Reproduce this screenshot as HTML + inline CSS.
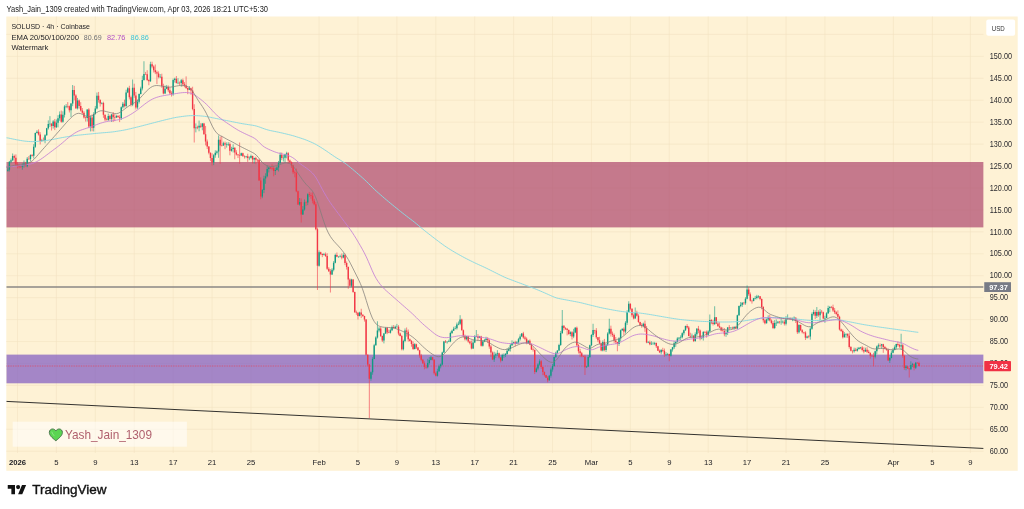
<!DOCTYPE html>
<html lang="en"><head><meta charset="utf-8"><title>SOLUSD chart</title>
<style>html,body{margin:0;padding:0;background:#fff;overflow:hidden}svg{display:block}</style></head>
<body>
<svg width="1024" height="509" viewBox="0 0 1024 509">
<rect width="1024" height="509" fill="#fff"/>
<rect x="6.3" y="16.5" width="1011.4000000000001" height="454.3" fill="#fef2d5"/>
<path d="M17.5 16.5V453.0M56.41 16.5V453.0M95.32 16.5V453.0M134.24 16.5V453.0M173.15 16.5V453.0M212.06 16.5V453.0M250.97 16.5V453.0M319.07 16.5V453.0M357.98 16.5V453.0M396.89 16.5V453.0M435.8 16.5V453.0M474.72 16.5V453.0M513.63 16.5V453.0M552.54 16.5V453.0M591.45 16.5V453.0M630.36 16.5V453.0M669.28 16.5V453.0M708.19 16.5V453.0M747.1 16.5V453.0M786.01 16.5V453.0M824.92 16.5V453.0M893.4 16.5V453.0M932.4 16.5V453.0M970.4 16.5V453.0M6.3 451.23H983.6M6.3 429.29H983.6M6.3 407.35H983.6M6.3 385.41H983.6M6.3 363.48H983.6M6.3 341.54H983.6M6.3 319.6H983.6M6.3 297.66H983.6M6.3 275.73H983.6M6.3 253.79H983.6M6.3 231.85H983.6M6.3 209.91H983.6M6.3 187.97H983.6M6.3 166.04H983.6M6.3 144.1H983.6M6.3 122.16H983.6M6.3 100.22H983.6M6.3 78.29H983.6M6.3 56.35H983.6M6.3 34.41H983.6" stroke="#f3e2c0" stroke-width="0.55" fill="none"/>
<clipPath id="pane"><rect x="6.3" y="16.5" width="977.3000000000001" height="436.5"/></clipPath>
<g clip-path="url(#pane)">
<rect x="6.3" y="162" width="977.3000000000001" height="65.4" fill="rgb(177,80,115)" fill-opacity="0.75"/>
<rect x="6.3" y="354.6" width="977.3000000000001" height="28.7" fill="rgb(134,97,193)" fill-opacity="0.75"/>
<path d="M6.3 286.9H983.6" stroke="#8a8784" stroke-width="1.5"/>
<path d="M6.3 401.4L983.6 448.45" stroke="#1c1c1c" stroke-width="0.9"/>
<path d="M6.3 366.02H983.6" stroke="#f23645" stroke-width="0.8" stroke-dasharray="0.8 0.9" opacity="0.85"/>
<path d="M7.77 167.2V171.65M9.39 160.95V171.5M11.01 158.49V163.1M12.64 153.48V161.24M22.36 163.35V169.72M23.99 160.48V167.66M27.23 157.03V167.24M30.47 154.35V161.28M33.71 144.18V158.41M35.33 132.55V147.8M36.96 130.2V133.53M41.82 138.85V141.72M45.06 134.18V143.28M46.68 127.86V135.81M48.31 120.38V129.56M49.93 116.16V127.06M53.17 120.1V128.57M56.41 119.51V127.92M58.03 115.2V127.38M59.65 111.45V120.76M62.9 111.32V122.76M64.52 105.19V117.49M66.14 104.1V108.12M71 103.1V117.02M72.63 85V106.2M77.49 97.95V109.45M87.22 109.4V121.55M90.46 115.29V131.41M93.7 112.2V131.46M95.32 105.95V114.68M96.95 92.54V109.41M101.81 102.18V104.33M108.29 113.62V120.93M111.54 114V122.01M116.4 114.91V118.06M121.27 106.39V120M122.89 101.99V108.55M126.13 89.7V107.47M127.75 87.2V93.14M132.61 79.5V106.17M137.48 99.43V108.96M139.1 93.45V103.5M140.72 86.7V94.44M142.34 75.77V90.42M143.96 61.25V80.72M150.45 61.72V81.9M160.18 74.03V78.18M165.04 85.52V93.8M166.66 84.96V89.21M173.15 78.59V95.76M174.77 77.7V82.59M178.01 78.15V84.15M181.25 78.96V86.81M189.36 86.01V90.16M195.85 123.4V132.37M199.09 120.55V131.28M202.33 122.96V130.29M213.68 154.12V165.12M215.3 150.31V157.73M216.92 150.42V154.5M218.55 135.44V157.8M223.41 141.73V145.92M226.65 142.37V147.61M228.27 142.2V146.04M231.52 146.79V151.67M233.14 144.31V152.49M241.24 152.62V156.01M246.11 155.86V158.19M249.35 156.4V160.16M250.97 154.65V158.59M254.21 157.54V163.6M262.32 188.99V198.18M263.94 175.68V193.13M265.56 173.28V183.77M267.19 165.44V177.34M268.81 166.77V172.42M275.29 167.69V175.02M276.91 166.32V170.5M278.53 160.95V171.45M280.16 152.45V164.45M283.4 155.01V161.5M285.02 153.71V162.72M286.64 151.72V158.33M299.61 198.04V205.58M302.85 206.1V214.99M304.48 199.47V210.61M307.72 193.32V205.11M319.07 250.39V266.63M323.93 252.9V255.47M332.04 268.17V275.01M333.66 261.07V271.35M335.28 253.61V263.33M338.52 256.23V257.61M340.15 254.7V257.42M343.39 253.23V258.29M351.49 278.79V287.1M359.6 311.7V316.42M370.95 371.45V380.69M372.57 357.2V374.72M374.19 343.84V359.24M375.81 336.31V345.69M377.44 321.25V338.59M379.06 326.99V332.33M383.92 332.94V343.41M385.54 327.2V333.85M390.41 328.38V333.56M392.03 325.52V331.05M395.27 325.65V328.96M396.89 323.9V327.3M403.38 339.7V350.43M405 328.45V342.23M414.73 343.11V349.47M427.7 358.81V368.34M429.32 357.09V364.61M430.94 355.95V360.37M437.43 368.77V376.55M439.05 364.54V371.83M440.67 363.45V368.39M442.29 351.64V365.37M443.91 340.92V353.04M447.15 341.18V343.61M448.77 339.7V342.1M450.4 331.62V342.2M452.02 329.7V334.03M453.64 326.79V330.84M455.26 326.12V329.4M456.88 322.54V329.55M458.5 321.46V325.21M460.12 315.2V325.17M466.61 335.96V340.53M473.09 339.98V349.06M474.72 335.12V343.14M476.34 330V336.88M479.58 335.86V338.17M482.82 340.11V346.62M484.44 338.98V342.19M486.07 336.75V340.52M494.17 351.73V361.94M495.79 352.58V357.99M497.41 350.19V355.89M502.28 353.75V361.16M503.9 353.35V357.9M505.52 353.05V357.12M507.14 348.11V354.77M508.76 347.2V351.44M510.39 343.96V351.53M512.01 340.27V346.08M513.63 341.65V344.3M516.87 341.07V344.12M518.49 337.86V343.95M520.11 334.25V340.61M521.73 333.01V336.73M528.22 340.2V343.31M536.33 367.3V372.44M537.95 363.29V370.34M539.57 359.28V365.6M549.3 374.9V380.71M550.92 367.55V377.61M552.54 363.92V371.66M554.16 356.6V366.71M555.78 351.65V357.94M557.4 350.26V354.28M559.03 343.78V351.14M560.65 330.98V345.91M562.27 310V333.99M570.37 331.31V336.13M573.62 328.84V338.11M575.24 326.98V333.16M586.59 366.24V367.8M588.21 355.18V367.05M589.83 344.7V358.05M591.45 334.13V346.26M593.07 323.75V336.91M602.8 340.39V351.4M606.04 343.99V352.01M607.67 332.2V346.02M609.29 318.75V334.46M619.01 337.2V345.99M620.64 329.54V341.53M622.26 328.54V330.86M625.5 321.17V333.44M627.12 310.22V324.94M628.74 301.25V312.18M635.23 307.5V318.63M643.33 322.64V327.32M648.2 340.95V343.16M651.44 341.29V345.02M653.06 341.85V344.37M654.68 341.83V345.15M661.17 349.07V354.29M666.03 352.2V356.09M667.65 352.9V355.31M670.9 348.99V356.57M672.52 346.95V351.59M674.14 341.15V349.02M675.76 340.95V346.85M677.38 337.17V342.6M679 337.06V340.65M680.63 335.37V340.26M682.25 332.3V338.41M683.87 329.56V335.35M685.49 325.66V330.93M691.97 333.55V337.8M695.22 332.33V341.9M696.84 328.02V336.18M701.7 335.95V339.28M703.32 331.02V340.58M708.19 330.27V335.92M709.81 314.5V331.93M714.67 306.25V325.04M726.02 330.04V336.87M727.64 327V335.06M730.89 327.12V328.58M734.13 326.07V329.76M737.37 314.7V329.17M738.99 305.58V315.9M740.61 302.07V307.26M742.24 302.2V306.94M745.48 297.2V304.77M747.1 285.5V299.28M753.59 297.94V301.4M755.21 295.95V299.42M756.83 294.83V299.42M758.45 295.22V298.23M766.56 318.47V323.54M768.18 315.35V320.94M774.66 320.11V329.11M776.28 319.37V326.01M777.91 320.95V323.8M781.15 318.55V324.73M782.77 320.38V323.38M786.01 316.17V325.45M787.63 314.36V319.41M792.5 317.61V321.18M794.12 316.41V321.05M798.98 324.18V333.49M807.09 335.72V338.5M810.33 327.2V339.67M811.95 312.43V329.81M813.57 309.7V315.48M816.82 307.05V318.02M820.06 309.08V320.1M824.92 315.71V322.8M826.55 312.2V318.17M828.17 305.68V313.98M829.79 305.95V312.18M844.38 332.15V337.57M846 333.19V337.75M854.11 347.65V352.64M857.35 347.48V351.64M858.97 346.94V349.66M860.59 346.96V349.17M865.46 347.69V351.85M875.19 350.6V358.41M876.81 345.62V354.41M878.43 343.45V348.68M881.67 343.87V348.62M889.78 357.2V362.97M891.4 350.58V358.27M893.02 347.97V353.31M894.64 345.39V350.36M896.26 343.7V349.21M901.13 333.75V349.75M905.99 365.04V370.31M910.85 361.33V369.93M912.48 362.87V367.12M915.72 361.93V369.03" stroke="#0f9a82" stroke-width="0.6" fill="none"/>
<path d="M14.26 154.65V163.14M15.88 154.42V166.33M17.5 162.15V168.4M19.12 164.2V168.36M20.74 166.21V167.41M25.61 161.87V166.35M28.85 156.07V159.77M32.09 154.01V156.6M38.58 129.34V135.57M40.2 132.2V144.44M43.44 137.5V141.1M51.55 123.1V130.52M54.79 118.96V130.11M61.28 110.6V122.8M67.76 102.1V108.3M69.38 105.49V112.48M74.25 85.85V100.31M75.87 94.25V109.05M79.11 99.5V108.65M80.73 102.2V111.55M82.35 108.02V114.01M83.97 111.16V118.61M85.6 116.89V121.55M88.84 108.15V128.13M92.08 114.44V131.25M98.57 91.93V102.58M100.19 99.25V106.55M103.43 101.73V117.8M105.05 114.57V121.15M106.67 117.7V120.55M109.92 114.79V120.4M113.16 112.07V122.02M114.78 114.12V121.16M118.02 114.98V117.53M119.64 115.2V122.12M124.51 99.62V107.39M129.37 85.77V99.4M130.99 95.61V106.48M134.24 83.73V97.8M135.86 91.93V109.5M145.59 71.92V74.49M147.21 70.23V81.11M148.83 79.25V85.23M152.07 61.68V68.31M153.69 65.28V72.51M155.31 64.49V74.13M156.93 70.59V84.05M158.56 71.37V78.35M161.8 73.73V87.88M163.42 83.75V94.34M168.28 85.45V92.11M169.91 87.29V94.36M171.53 91.28V96.55M176.39 76.01V83.55M179.63 81.48V85.29M182.88 78.6V86.51M184.5 82.13V87.29M186.12 76.39V89.05M187.74 87.51V94.18M190.98 87.57V94.72M192.6 86.72V110.3M194.23 104.27V142.5M197.47 125.69V129.26M200.71 123.21V128.04M203.95 122.92V134.66M205.57 125.95V145.39M207.2 139.51V149.05M208.82 146.15V154.37M210.44 152.46V161.23M212.06 153.24V165.5M220.17 136.64V163.75M221.79 135.95V146.54M225.03 141.6V149.2M229.89 142.41V155.3M234.76 147.34V159.31M236.38 150.2V155.56M238 154V158.06M239.62 142.5V163.75M242.87 152.68V157.01M244.49 155.38V158.54M247.73 153.74V161.86M252.59 155.61V163.6M255.84 156.67V164.08M257.46 159.26V162.54M259.08 158.95V180.75M260.7 177.41V199.22M270.43 166.96V169.15M272.05 164.36V170.3M273.67 165.85V176.28M281.78 152.53V160.14M288.26 152.13V163.65M289.88 159.48V163.08M291.51 161.41V167.8M293.13 164.92V174.05M294.75 170.54V177.27M296.37 168.61V192.17M297.99 190.7V204.98M301.23 198.45V222.5M306.1 201.3V205.83M309.34 191.95V196.99M310.96 192.68V198.78M312.58 192.32V203.32M314.2 198.98V205.3M315.83 202.03V230.3M317.45 227.6V290M320.69 251.73V255.21M322.31 253.4V257.13M325.55 252.47V256.96M327.17 253.19V269.93M328.8 267.11V271.97M330.42 269.14V292.5M336.9 252.5V257.11M341.77 253.44V259.37M345.01 253.56V265.17M346.63 261.51V269.56M348.25 266.47V288.75M349.87 278.3V286.5M353.12 279.09V292.81M354.74 291.62V312.8M356.36 310.63V314.81M357.98 312.16V319.56M361.22 308.77V318.09M362.84 314.24V317.05M364.47 315.81V321.57M366.09 319.04V355.46M367.71 354.51V366.34M369.33 363.91V418M380.68 326.6V337M382.3 335.54V342.1M387.16 326.98V334.19M388.79 329.63V333.17M393.65 325.06V328.45M398.51 325.2V335.29M400.13 332.64V336.43M401.76 334.92V350.42M406.62 327.49V336.65M408.24 329.48V341.61M409.86 338.46V341.64M411.48 340.01V346.7M413.11 341.47V349.98M416.35 343.67V349.01M417.97 346.98V350.55M419.59 349.84V357.78M421.21 353.87V361.32M422.83 358.92V364.05M424.45 361.31V369.32M426.08 364.7V368.83M432.56 357.01V360.42M434.18 359.11V374.62M435.8 371.66V376.39M445.53 340.07V342.9M461.75 318.7V330.5M463.37 329.5V337.24M464.99 334.61V340.52M468.23 335.8V342.7M469.85 340.48V344.44M471.47 340.52V349.33M477.96 334.06V340.69M481.2 335.77V346.55M487.69 337.16V343.12M489.31 339.2V348.8M490.93 344.92V356.87M492.55 351.43V360.02M499.04 352.63V358.53M500.66 357.05V362.45M515.25 340.77V346.2M523.36 331.82V338.77M524.98 335.91V340.3M526.6 337.37V344.28M529.84 339.43V345.14M531.46 343.5V350.03M533.08 347.43V351.55M534.71 349.39V374.05M541.19 360.06V368.96M542.81 366.58V375.18M544.43 371.47V376.55M546.05 374.79V377.95M547.68 376.12V382.29M563.89 325.18V330.48M565.51 327.2V330.01M567.13 327.9V335.4M568.75 329.38V334.78M572 331.1V339.51M576.86 326.54V346.59M578.48 344.2V353.49M580.1 348.87V357.11M581.72 351.93V357.25M583.35 355.62V357.15M584.97 354.94V375M594.69 329.84V333.69M596.32 328.1V338.85M597.94 337V342.14M599.56 336.8V344.05M601.18 342.65V351.3M604.42 338.93V351.26M610.91 325.67V336.52M612.53 331.58V336.93M614.15 333.52V342.88M615.77 336.97V344.09M617.39 341.85V351.25M623.88 327.39V335.11M630.36 303.39V310.37M631.99 308.26V317.26M633.61 313.57V319.37M636.85 310.74V316.58M638.47 314.29V322.8M640.09 321.69V325.85M641.71 323.2V327.75M644.96 320.59V331.83M646.58 326.01V343.25M649.82 340.62V345.25M656.31 342.5V348M657.93 345.82V350.95M659.55 349.48V353.07M662.79 347.78V352.22M664.41 348.54V356.84M669.28 353.73V361.25M687.11 324.12V328.69M688.73 326.03V336.31M690.35 332.72V338.12M693.6 335.02V342.05M698.46 325.92V333.21M700.08 329.56V340.4M704.95 330.95V333.33M706.57 330.57V337.6M711.43 319.24V324.15M713.05 319.92V325.49M716.29 317.01V324.05M717.92 321.54V326.6M719.54 322.21V327.99M721.16 326.81V331.48M722.78 327.41V331.64M724.4 328.05V336.31M729.27 325.11V329.62M732.51 326.68V328.92M735.75 325.9V329.26M743.86 301.95V304.91M748.72 287.28V295.86M750.34 292.44V301.55M751.96 299.7V303.6M760.07 296.04V300.3M761.69 298.44V309.28M763.31 306.19V322.57M764.93 318.83V324.38M769.8 314.87V321.55M771.42 319.36V324.36M773.04 320.87V329.05M779.53 320.98V323.57M784.39 320.04V325.52M789.25 317.7V319.84M790.88 317.3V320.09M795.74 317.24V323.02M797.36 319.92V333.97M800.6 324.63V331.1M802.23 329.11V333.43M803.85 331.8V334.16M805.47 331.2V339.98M808.71 335.2V338.16M815.2 310.22V319.05M818.44 310.3V316.75M821.68 309.96V313.58M823.3 311.66V319.23M831.41 305.95V308.32M833.03 304.67V311.94M834.65 308.06V313.94M836.27 311.24V315.3M837.89 310.37V318.28M839.52 315.73V330.51M841.14 328.58V331.93M842.76 329.51V338.48M847.62 333.22V337.8M849.24 332.92V348.67M850.87 346.09V351.38M852.49 350.31V353.43M855.73 347.85V351.21M862.21 346.03V351.43M863.84 347.28V353.29M867.08 347.23V353.05M868.7 349.85V353.37M870.32 352.22V358.61M871.94 354.14V356.82M873.56 352.75V366.25M880.05 343.45V347.56M883.29 343.81V352.8M884.91 345.9V349.08M886.53 347.68V350.76M888.16 348.54V360.8M897.88 341.5V346.55M899.51 343.63V347.8M902.75 344.08V357.8M904.37 354.82V369.88M907.61 365.81V369.11M909.23 368.14V377.5M914.1 363.34V370.33M917.34 362.23V363.72M918.96 361.7V366.35" stroke="#f23645" stroke-width="0.6" fill="none"/>
<path d="M7.07 169.81h1.4V170.81h-1.4zM8.69 161.82h1.4V169.81h-1.4zM10.31 160.32h1.4V161.82h-1.4zM11.94 156.03h1.4V160.32h-1.4zM21.66 165.63h1.4V166.8h-1.4zM23.29 163.5h1.4V165.63h-1.4zM26.53 158.66h1.4V166.15h-1.4zM29.77 155.07h1.4V159.06h-1.4zM33.01 146.77h1.4V155.72h-1.4zM34.63 132.89h1.4V146.77h-1.4zM36.26 131.85h1.4V132.89h-1.4zM41.12 140.28h1.4V140.9h-1.4zM44.36 135.32h1.4V140.77h-1.4zM45.98 128.24h1.4V135.32h-1.4zM47.61 124.01h1.4V128.24h-1.4zM49.23 123.87h1.4V124.37h-1.4zM52.47 121.43h1.4V126.03h-1.4zM55.71 122.8h1.4V127.18h-1.4zM57.33 118.29h1.4V122.8h-1.4zM58.95 114.49h1.4V118.29h-1.4zM62.2 114.83h1.4V121.63h-1.4zM63.82 106.55h1.4V114.83h-1.4zM65.44 106.18h1.4V106.68h-1.4zM70.3 103.56h1.4V110.36h-1.4zM71.93 90.12h1.4V103.56h-1.4zM76.79 100.49h1.4V108.24h-1.4zM86.52 109.62h1.4V118.1h-1.4zM89.76 117.45h1.4V126.41h-1.4zM93 114.09h1.4V127.79h-1.4zM94.62 108.38h1.4V114.09h-1.4zM96.25 95.87h1.4V108.38h-1.4zM101.11 102.88h1.4V103.58h-1.4zM107.59 115.97h1.4V119.88h-1.4zM110.84 114.55h1.4V119.01h-1.4zM115.7 116h1.4V117.52h-1.4zM120.57 107.29h1.4V118.24h-1.4zM122.19 103.8h1.4V107.29h-1.4zM125.43 92.61h1.4V106.03h-1.4zM127.05 88.22h1.4V92.61h-1.4zM131.91 87.87h1.4V104.68h-1.4zM136.78 101.78h1.4V107.5h-1.4zM138.4 94.1h1.4V101.78h-1.4zM140.02 88.41h1.4V94.1h-1.4zM141.64 80h1.4V88.41h-1.4zM143.26 73.97h1.4V80h-1.4zM149.75 64.31h1.4V81.18h-1.4zM159.48 76.64h1.4V77.14h-1.4zM164.34 88.74h1.4V93.5h-1.4zM165.96 87.06h1.4V88.74h-1.4zM172.45 79.88h1.4V94.36h-1.4zM174.07 78.85h1.4V79.88h-1.4zM177.31 82.72h1.4V83.22h-1.4zM180.55 80.16h1.4V82.96h-1.4zM188.66 88.14h1.4V89.72h-1.4zM195.15 127.43h1.4V128.17h-1.4zM198.39 125.84h1.4V127.47h-1.4zM201.63 123.56h1.4V126.87h-1.4zM212.98 155.36h1.4V162.4h-1.4zM214.6 152.68h1.4V155.36h-1.4zM216.22 151.52h1.4V152.68h-1.4zM217.85 139.77h1.4V151.52h-1.4zM222.71 143.25h1.4V145.6h-1.4zM225.95 144.36h1.4V144.86h-1.4zM227.57 143.89h1.4V144.39h-1.4zM230.82 148.88h1.4V150.64h-1.4zM232.44 147.77h1.4V148.88h-1.4zM240.54 153.19h1.4V155.39h-1.4zM245.41 156.13h1.4V156.63h-1.4zM248.65 157.65h1.4V158.15h-1.4zM250.27 156.08h1.4V157.65h-1.4zM253.51 157.9h1.4V159.41h-1.4zM261.62 189.96h1.4V196.62h-1.4zM263.24 178.57h1.4V189.96h-1.4zM264.86 176.27h1.4V178.57h-1.4zM266.49 168.98h1.4V176.27h-1.4zM268.11 167.59h1.4V168.98h-1.4zM274.59 169.91h1.4V170.95h-1.4zM276.21 167.59h1.4V169.91h-1.4zM277.83 163.09h1.4V167.59h-1.4zM279.46 154.84h1.4V163.09h-1.4zM282.7 157.67h1.4V158.17h-1.4zM284.32 154.14h1.4V157.67h-1.4zM285.94 153.18h1.4V154.14h-1.4zM298.91 202.1h1.4V204.51h-1.4zM302.15 209.39h1.4V214.57h-1.4zM303.78 202.35h1.4V209.39h-1.4zM307.02 194.32h1.4V202.56h-1.4zM318.37 252.36h1.4V265.87h-1.4zM323.23 254.15h1.4V254.98h-1.4zM331.34 269.66h1.4V274.45h-1.4zM332.96 262.66h1.4V269.66h-1.4zM334.58 254.98h1.4V262.66h-1.4zM337.82 256.67h1.4V257.17h-1.4zM339.45 256.48h1.4V256.98h-1.4zM342.69 254.88h1.4V257.49h-1.4zM350.79 279.53h1.4V285.69h-1.4zM358.9 312.52h1.4V316.03h-1.4zM370.25 372.36h1.4V378.8h-1.4zM371.87 358.95h1.4V372.36h-1.4zM373.49 345.18h1.4V358.95h-1.4zM375.11 337.52h1.4V345.18h-1.4zM376.74 330.51h1.4V337.52h-1.4zM378.36 328.48h1.4V330.51h-1.4zM383.22 333.5h1.4V340.56h-1.4zM384.84 327.9h1.4V333.5h-1.4zM389.71 330.27h1.4V332.73h-1.4zM391.33 327.1h1.4V330.27h-1.4zM394.57 326.83h1.4V327.9h-1.4zM396.19 326.82h1.4V327.32h-1.4zM402.68 340.97h1.4V349.3h-1.4zM404.3 330.46h1.4V340.97h-1.4zM414.03 344.2h1.4V348.99h-1.4zM427 363.02h1.4V367.23h-1.4zM428.62 359.95h1.4V363.02h-1.4zM430.24 357.36h1.4V359.95h-1.4zM436.73 371.32h1.4V375.78h-1.4zM438.35 366.34h1.4V371.32h-1.4zM439.97 364.38h1.4V366.34h-1.4zM441.59 352.6h1.4V364.38h-1.4zM443.21 341.48h1.4V352.6h-1.4zM446.45 341.73h1.4V342.23h-1.4zM448.07 341.43h1.4V341.93h-1.4zM449.7 332.96h1.4V341.43h-1.4zM451.32 330.63h1.4V332.96h-1.4zM452.94 328.84h1.4V330.63h-1.4zM454.56 328.33h1.4V328.84h-1.4zM456.18 324.54h1.4V328.33h-1.4zM457.8 323.82h1.4V324.54h-1.4zM459.42 319.42h1.4V323.82h-1.4zM465.91 336.25h1.4V339.3h-1.4zM472.39 342.49h1.4V348.57h-1.4zM474.02 336.51h1.4V342.49h-1.4zM475.64 336.13h1.4V336.63h-1.4zM478.88 336.43h1.4V337.94h-1.4zM482.12 341.57h1.4V345.72h-1.4zM483.74 340.27h1.4V341.57h-1.4zM485.37 338.82h1.4V340.27h-1.4zM493.47 355.38h1.4V359.51h-1.4zM495.09 354.13h1.4V355.38h-1.4zM496.71 353.23h1.4V354.13h-1.4zM501.58 354.99h1.4V360.54h-1.4zM503.2 354.95h1.4V355.45h-1.4zM504.82 354.07h1.4V354.95h-1.4zM506.44 350.69h1.4V354.07h-1.4zM508.06 348.9h1.4V350.69h-1.4zM509.69 345.21h1.4V348.9h-1.4zM511.31 342.9h1.4V345.21h-1.4zM512.93 342.19h1.4V342.9h-1.4zM516.17 342.36h1.4V343.72h-1.4zM517.79 339.25h1.4V342.36h-1.4zM519.41 336.51h1.4V339.25h-1.4zM521.03 333.39h1.4V336.51h-1.4zM527.52 340.79h1.4V343.03h-1.4zM535.63 368.48h1.4V371.92h-1.4zM537.25 364.49h1.4V368.48h-1.4zM538.87 361.33h1.4V364.49h-1.4zM548.6 375.79h1.4V380.31h-1.4zM550.22 369.61h1.4V375.79h-1.4zM551.84 366.06h1.4V369.61h-1.4zM553.46 357.11h1.4V366.06h-1.4zM555.08 352.86h1.4V357.11h-1.4zM556.7 350.49h1.4V352.86h-1.4zM558.33 345.08h1.4V350.49h-1.4zM559.95 333.02h1.4V345.08h-1.4zM561.57 325.78h1.4V333.02h-1.4zM569.67 332.33h1.4V334.04h-1.4zM572.92 332.44h1.4V336.5h-1.4zM574.54 327.84h1.4V332.44h-1.4zM585.89 366.55h1.4V367.16h-1.4zM587.51 357.1h1.4V366.55h-1.4zM589.13 345.26h1.4V357.1h-1.4zM590.75 334.99h1.4V345.26h-1.4zM592.37 330.12h1.4V334.99h-1.4zM602.1 342h1.4V350.43h-1.4zM605.34 344.72h1.4V349.97h-1.4zM606.97 333.51h1.4V344.72h-1.4zM608.59 328.72h1.4V333.51h-1.4zM618.31 338.56h1.4V343.95h-1.4zM619.94 330.22h1.4V338.56h-1.4zM621.56 328.8h1.4V330.22h-1.4zM624.8 322.74h1.4V331.6h-1.4zM626.42 311.97h1.4V322.74h-1.4zM628.04 303.84h1.4V311.97h-1.4zM634.53 312.86h1.4V318.41h-1.4zM642.63 323.8h1.4V326h-1.4zM647.5 342.22h1.4V342.72h-1.4zM650.74 343.86h1.4V344.36h-1.4zM652.36 343.82h1.4V344.32h-1.4zM653.98 342.91h1.4V343.82h-1.4zM660.47 349.93h1.4V352.33h-1.4zM665.33 354.09h1.4V354.59h-1.4zM666.95 353.97h1.4V354.47h-1.4zM670.2 349.41h1.4V355.79h-1.4zM671.82 347.19h1.4V349.41h-1.4zM673.44 343.18h1.4V347.19h-1.4zM675.06 341.98h1.4V343.18h-1.4zM676.68 338.45h1.4V341.98h-1.4zM678.3 337.68h1.4V338.45h-1.4zM679.93 337.31h1.4V337.81h-1.4zM681.55 333.34h1.4V337.31h-1.4zM683.17 330.34h1.4V333.34h-1.4zM684.79 325.9h1.4V330.34h-1.4zM691.27 335.84h1.4V336.34h-1.4zM694.52 334.36h1.4V341.03h-1.4zM696.14 328.63h1.4V334.36h-1.4zM701 337.75h1.4V338.35h-1.4zM702.62 332.06h1.4V337.75h-1.4zM707.49 331.46h1.4V334.81h-1.4zM709.11 319.96h1.4V331.46h-1.4zM713.97 317.26h1.4V323.91h-1.4zM725.32 333.1h1.4V334.18h-1.4zM726.94 327.51h1.4V333.1h-1.4zM730.19 327.68h1.4V328.19h-1.4zM733.43 326.91h1.4V328.09h-1.4zM736.67 315.24h1.4V328.6h-1.4zM738.29 305.98h1.4V315.24h-1.4zM739.91 304.68h1.4V305.98h-1.4zM741.54 302.75h1.4V304.68h-1.4zM744.78 298.76h1.4V303.35h-1.4zM746.4 289.59h1.4V298.76h-1.4zM752.89 298.21h1.4V301.08h-1.4zM754.51 298.09h1.4V298.59h-1.4zM756.13 296.61h1.4V298.09h-1.4zM757.75 296.26h1.4V296.76h-1.4zM765.86 319.43h1.4V323.33h-1.4zM767.48 317.51h1.4V319.43h-1.4zM773.96 322.92h1.4V327.92h-1.4zM775.58 322.8h1.4V323.3h-1.4zM777.21 321.8h1.4V322.8h-1.4zM780.45 321.84h1.4V322.34h-1.4zM782.07 321.75h1.4V322.25h-1.4zM785.31 319.14h1.4V323.69h-1.4zM786.93 318.32h1.4V319.14h-1.4zM791.8 318.42h1.4V319.25h-1.4zM793.42 317.81h1.4V318.42h-1.4zM798.28 324.89h1.4V332.36h-1.4zM806.39 336.49h1.4V337.83h-1.4zM809.63 328.75h1.4V336.54h-1.4zM811.25 314.03h1.4V328.75h-1.4zM812.87 311.88h1.4V314.03h-1.4zM816.12 311.9h1.4V315.83h-1.4zM819.36 311.73h1.4V315.27h-1.4zM824.22 317.91h1.4V318.41h-1.4zM825.85 313.34h1.4V317.91h-1.4zM827.47 307.96h1.4V313.34h-1.4zM829.09 307.01h1.4V307.96h-1.4zM843.68 334.14h1.4V337.27h-1.4zM845.3 334.08h1.4V334.58h-1.4zM853.41 349.73h1.4V351.26h-1.4zM856.65 349h1.4V350.87h-1.4zM858.27 347.66h1.4V349h-1.4zM859.89 347.61h1.4V348.11h-1.4zM864.76 349.64h1.4V351.6h-1.4zM874.49 351.35h1.4V356.83h-1.4zM876.11 346.61h1.4V351.35h-1.4zM877.73 345.15h1.4V346.61h-1.4zM880.97 344.36h1.4V345.58h-1.4zM889.08 357.91h1.4V360.41h-1.4zM890.7 352.72h1.4V357.91h-1.4zM892.32 349.91h1.4V352.72h-1.4zM893.94 347.36h1.4V349.91h-1.4zM895.56 344.08h1.4V347.36h-1.4zM900.43 345.34h1.4V346.61h-1.4zM905.29 366.4h1.4V368.04h-1.4zM910.15 364.95h1.4V369.28h-1.4zM911.78 364.24h1.4V364.95h-1.4zM915.02 362.68h1.4V367.77h-1.4z" fill="#0f9a82"/>
<path d="M13.56 156.03h1.4V157.64h-1.4zM15.18 157.64h1.4V164.54h-1.4zM16.8 164.54h1.4V166.12h-1.4zM18.42 166.12h1.4V166.69h-1.4zM20.04 166.69h1.4V167.19h-1.4zM24.91 163.5h1.4V166.15h-1.4zM28.15 158.66h1.4V159.16h-1.4zM31.39 155.07h1.4V155.72h-1.4zM37.88 131.85h1.4V134.62h-1.4zM39.5 134.62h1.4V140.9h-1.4zM42.74 140.28h1.4V140.78h-1.4zM50.85 123.87h1.4V126.03h-1.4zM54.09 121.43h1.4V127.18h-1.4zM60.58 114.49h1.4V121.63h-1.4zM67.06 106.18h1.4V106.68h-1.4zM68.68 106.29h1.4V110.36h-1.4zM73.55 90.12h1.4V95.45h-1.4zM75.17 95.45h1.4V108.24h-1.4zM78.41 100.49h1.4V106.06h-1.4zM80.03 106.06h1.4V110.41h-1.4zM81.65 110.41h1.4V112.83h-1.4zM83.27 112.83h1.4V117.54h-1.4zM84.9 117.54h1.4V118.1h-1.4zM88.14 109.62h1.4V126.41h-1.4zM91.38 117.45h1.4V127.79h-1.4zM97.87 95.87h1.4V99.98h-1.4zM99.49 99.98h1.4V103.58h-1.4zM102.73 102.88h1.4V114.8h-1.4zM104.35 114.8h1.4V119.59h-1.4zM105.97 119.59h1.4V120.09h-1.4zM109.22 115.97h1.4V119.01h-1.4zM112.46 114.55h1.4V117.21h-1.4zM114.08 117.21h1.4V117.71h-1.4zM117.32 116h1.4V117.27h-1.4zM118.94 117.27h1.4V118.24h-1.4zM123.81 103.8h1.4V106.03h-1.4zM128.67 88.22h1.4V97.24h-1.4zM130.29 97.24h1.4V104.68h-1.4zM133.54 87.87h1.4V95.47h-1.4zM135.16 95.47h1.4V107.5h-1.4zM144.89 73.97h1.4V74.47h-1.4zM146.51 74.27h1.4V79.96h-1.4zM148.13 79.96h1.4V81.18h-1.4zM151.37 64.31h1.4V66.52h-1.4zM152.99 66.52h1.4V70.35h-1.4zM154.61 70.35h1.4V72.15h-1.4zM156.23 72.15h1.4V73.55h-1.4zM157.86 73.55h1.4V76.96h-1.4zM161.1 76.64h1.4V86.09h-1.4zM162.72 86.09h1.4V93.5h-1.4zM167.58 87.06h1.4V90.19h-1.4zM169.21 90.19h1.4V93.23h-1.4zM170.83 93.23h1.4V94.36h-1.4zM175.69 78.85h1.4V83.09h-1.4zM178.93 82.72h1.4V83.22h-1.4zM182.18 80.16h1.4V84.33h-1.4zM183.8 84.33h1.4V85.46h-1.4zM185.42 85.46h1.4V87.99h-1.4zM187.04 87.99h1.4V89.72h-1.4zM190.28 88.14h1.4V90.57h-1.4zM191.9 90.57h1.4V109.02h-1.4zM193.53 109.02h1.4V128.17h-1.4zM196.77 127.43h1.4V127.93h-1.4zM200.01 125.84h1.4V126.87h-1.4zM203.25 123.56h1.4V134.23h-1.4zM204.87 134.23h1.4V141.48h-1.4zM206.5 141.48h1.4V146.42h-1.4zM208.12 146.42h1.4V152.8h-1.4zM209.74 152.8h1.4V157.97h-1.4zM211.36 157.97h1.4V162.4h-1.4zM219.47 139.77h1.4V145.47h-1.4zM221.09 145.47h1.4V145.97h-1.4zM224.33 143.25h1.4V144.5h-1.4zM229.19 143.89h1.4V150.64h-1.4zM234.06 147.77h1.4V152.55h-1.4zM235.68 152.55h1.4V154.52h-1.4zM237.3 154.52h1.4V155.17h-1.4zM238.92 155.17h1.4V155.67h-1.4zM242.17 153.19h1.4V155.97h-1.4zM243.79 155.97h1.4V156.47h-1.4zM247.03 156.13h1.4V158.1h-1.4zM251.89 156.08h1.4V159.41h-1.4zM255.14 157.9h1.4V159.85h-1.4zM256.76 159.85h1.4V160.35h-1.4zM258.38 160h1.4V180.54h-1.4zM260 180.54h1.4V196.62h-1.4zM269.73 167.59h1.4V168.33h-1.4zM271.35 168.33h1.4V168.83h-1.4zM272.97 168.33h1.4V170.95h-1.4zM281.08 154.84h1.4V157.99h-1.4zM287.56 153.18h1.4V160.55h-1.4zM289.18 160.55h1.4V162.33h-1.4zM290.81 162.33h1.4V165.41h-1.4zM292.43 165.41h1.4V172.17h-1.4zM294.05 172.17h1.4V172.82h-1.4zM295.67 172.82h1.4V191.29h-1.4zM297.29 191.29h1.4V204.51h-1.4zM300.53 202.1h1.4V214.57h-1.4zM305.4 202.35h1.4V202.85h-1.4zM308.64 194.32h1.4V195h-1.4zM310.26 195h1.4V195.83h-1.4zM311.88 195.83h1.4V200.79h-1.4zM313.5 200.79h1.4V204.33h-1.4zM315.13 204.33h1.4V229.33h-1.4zM316.75 229.33h1.4V265.87h-1.4zM319.99 252.36h1.4V254.02h-1.4zM321.61 254.02h1.4V254.98h-1.4zM324.85 254.15h1.4V255.91h-1.4zM326.47 255.91h1.4V268.76h-1.4zM328.1 268.76h1.4V271.15h-1.4zM329.72 271.15h1.4V274.45h-1.4zM336.2 254.98h1.4V256.77h-1.4zM341.07 256.48h1.4V257.49h-1.4zM344.31 254.88h1.4V262.91h-1.4zM345.93 262.91h1.4V267.09h-1.4zM347.55 267.09h1.4V279.4h-1.4zM349.17 279.4h1.4V285.69h-1.4zM352.42 279.53h1.4V291.99h-1.4zM354.04 291.99h1.4V312.17h-1.4zM355.66 312.17h1.4V312.74h-1.4zM357.28 312.74h1.4V316.03h-1.4zM360.52 312.52h1.4V314.84h-1.4zM362.14 314.84h1.4V316.02h-1.4zM363.77 316.02h1.4V319.56h-1.4zM365.39 319.56h1.4V354.86h-1.4zM367.01 354.86h1.4V364.46h-1.4zM368.63 364.46h1.4V378.8h-1.4zM379.98 328.48h1.4V335.98h-1.4zM381.6 335.98h1.4V340.56h-1.4zM386.46 327.9h1.4V332.55h-1.4zM388.09 332.55h1.4V333.05h-1.4zM392.95 327.1h1.4V327.9h-1.4zM397.81 326.82h1.4V333.47h-1.4zM399.43 333.47h1.4V335.95h-1.4zM401.06 335.95h1.4V349.3h-1.4zM405.92 330.46h1.4V331.79h-1.4zM407.54 331.79h1.4V339.34h-1.4zM409.16 339.34h1.4V340.94h-1.4zM410.78 340.94h1.4V343.9h-1.4zM412.41 343.9h1.4V348.99h-1.4zM415.65 344.2h1.4V347.51h-1.4zM417.27 347.51h1.4V350.23h-1.4zM418.89 350.23h1.4V355.48h-1.4zM420.51 355.48h1.4V359.87h-1.4zM422.13 359.87h1.4V363.22h-1.4zM423.75 363.22h1.4V366.96h-1.4zM425.38 366.96h1.4V367.46h-1.4zM431.86 357.36h1.4V359.8h-1.4zM433.48 359.8h1.4V373.21h-1.4zM435.1 373.21h1.4V375.78h-1.4zM444.83 341.48h1.4V342.19h-1.4zM461.05 319.42h1.4V330.26h-1.4zM462.67 330.26h1.4V336.21h-1.4zM464.29 336.21h1.4V339.3h-1.4zM467.53 336.25h1.4V341.62h-1.4zM469.15 341.62h1.4V343.29h-1.4zM470.77 343.29h1.4V348.57h-1.4zM477.26 336.13h1.4V337.94h-1.4zM480.5 336.43h1.4V345.72h-1.4zM486.99 338.82h1.4V340.32h-1.4zM488.61 340.32h1.4V346.5h-1.4zM490.23 346.5h1.4V352.54h-1.4zM491.85 352.54h1.4V359.51h-1.4zM498.34 353.23h1.4V357.43h-1.4zM499.96 357.43h1.4V360.54h-1.4zM514.55 342.19h1.4V343.72h-1.4zM522.66 333.39h1.4V337.47h-1.4zM524.28 337.47h1.4V338.7h-1.4zM525.9 338.7h1.4V343.03h-1.4zM529.14 340.79h1.4V344.5h-1.4zM530.76 344.5h1.4V349.54h-1.4zM532.38 349.54h1.4V350.12h-1.4zM534.01 350.12h1.4V371.92h-1.4zM540.49 361.33h1.4V366.89h-1.4zM542.11 366.89h1.4V372.01h-1.4zM543.73 372.01h1.4V375.06h-1.4zM545.35 375.06h1.4V377.73h-1.4zM546.98 377.73h1.4V380.31h-1.4zM563.19 325.78h1.4V328.07h-1.4zM564.81 328.07h1.4V328.68h-1.4zM566.43 328.68h1.4V329.88h-1.4zM568.05 329.88h1.4V334.04h-1.4zM571.3 332.33h1.4V336.5h-1.4zM576.16 327.84h1.4V345.3h-1.4zM577.78 345.3h1.4V351.37h-1.4zM579.4 351.37h1.4V353.3h-1.4zM581.02 353.3h1.4V356.36h-1.4zM582.65 356.36h1.4V356.86h-1.4zM584.27 356.45h1.4V367.16h-1.4zM593.99 330.12h1.4V330.62h-1.4zM595.62 330.46h1.4V337.29h-1.4zM597.24 337.29h1.4V340.23h-1.4zM598.86 340.23h1.4V343.55h-1.4zM600.48 343.55h1.4V350.43h-1.4zM603.72 342h1.4V349.97h-1.4zM610.21 328.72h1.4V333.84h-1.4zM611.83 333.84h1.4V335h-1.4zM613.45 335h1.4V340.46h-1.4zM615.07 340.46h1.4V342.12h-1.4zM616.69 342.12h1.4V343.95h-1.4zM623.18 328.8h1.4V331.6h-1.4zM629.66 303.84h1.4V308.77h-1.4zM631.29 308.77h1.4V315.18h-1.4zM632.91 315.18h1.4V318.41h-1.4zM636.15 312.86h1.4V315.66h-1.4zM637.77 315.66h1.4V322.05h-1.4zM639.39 322.05h1.4V324.96h-1.4zM641.01 324.96h1.4V326h-1.4zM644.26 323.8h1.4V328.36h-1.4zM645.88 328.36h1.4V342.57h-1.4zM649.12 342.22h1.4V344.29h-1.4zM655.61 342.91h1.4V346.33h-1.4zM657.23 346.33h1.4V350.67h-1.4zM658.85 350.67h1.4V352.33h-1.4zM662.09 349.93h1.4V350.7h-1.4zM663.71 350.7h1.4V354.44h-1.4zM668.58 353.97h1.4V355.79h-1.4zM686.41 325.9h1.4V327.54h-1.4zM688.03 327.54h1.4V336.1h-1.4zM689.65 336.1h1.4V336.6h-1.4zM692.9 335.84h1.4V341.03h-1.4zM697.76 328.63h1.4V330.54h-1.4zM699.38 330.54h1.4V338.35h-1.4zM704.25 332.06h1.4V332.56h-1.4zM705.87 332.16h1.4V334.81h-1.4zM710.73 319.96h1.4V322.46h-1.4zM712.35 322.46h1.4V323.91h-1.4zM715.59 317.26h1.4V323.43h-1.4zM717.22 323.43h1.4V326.21h-1.4zM718.84 326.21h1.4V327.41h-1.4zM720.46 327.41h1.4V330.42h-1.4zM722.08 330.42h1.4V330.95h-1.4zM723.7 330.95h1.4V334.18h-1.4zM728.57 327.51h1.4V328.19h-1.4zM731.81 327.68h1.4V328.18h-1.4zM735.05 326.91h1.4V328.6h-1.4zM743.16 302.75h1.4V303.35h-1.4zM748.02 289.59h1.4V294.37h-1.4zM749.64 294.37h1.4V300.72h-1.4zM751.26 300.72h1.4V301.22h-1.4zM759.37 296.26h1.4V298.92h-1.4zM760.99 298.92h1.4V306.91h-1.4zM762.61 306.91h1.4V320.17h-1.4zM764.23 320.17h1.4V323.33h-1.4zM769.1 317.51h1.4V320.48h-1.4zM770.72 320.48h1.4V323.03h-1.4zM772.34 323.03h1.4V327.92h-1.4zM778.83 321.8h1.4V322.3h-1.4zM783.69 321.75h1.4V323.69h-1.4zM788.55 318.32h1.4V318.82h-1.4zM790.18 318.52h1.4V319.25h-1.4zM795.04 317.81h1.4V320.89h-1.4zM796.66 320.89h1.4V332.36h-1.4zM799.9 324.89h1.4V330.13h-1.4zM801.53 330.13h1.4V332.33h-1.4zM803.15 332.33h1.4V332.83h-1.4zM804.77 332.54h1.4V337.83h-1.4zM808.01 336.49h1.4V336.99h-1.4zM814.5 311.88h1.4V315.83h-1.4zM817.74 311.9h1.4V315.27h-1.4zM820.98 311.73h1.4V312.27h-1.4zM822.6 312.27h1.4V318.38h-1.4zM830.71 307.01h1.4V307.51h-1.4zM832.33 307.22h1.4V310.6h-1.4zM833.95 310.6h1.4V312.29h-1.4zM835.57 312.29h1.4V314.05h-1.4zM837.19 314.05h1.4V316.76h-1.4zM838.82 316.76h1.4V329.61h-1.4zM840.44 329.61h1.4V331.11h-1.4zM842.06 331.11h1.4V337.27h-1.4zM846.92 334.08h1.4V335.81h-1.4zM848.54 335.81h1.4V346.91h-1.4zM850.17 346.91h1.4V350.73h-1.4zM851.79 350.73h1.4V351.26h-1.4zM855.03 349.73h1.4V350.87h-1.4zM861.51 347.61h1.4V349.9h-1.4zM863.14 349.9h1.4V351.6h-1.4zM866.38 349.64h1.4V351.76h-1.4zM868 351.76h1.4V353.08h-1.4zM869.62 353.08h1.4V355.79h-1.4zM871.24 355.79h1.4V356.29h-1.4zM872.86 355.9h1.4V356.83h-1.4zM879.35 345.15h1.4V345.65h-1.4zM882.59 344.36h1.4V347.05h-1.4zM884.21 347.05h1.4V348.7h-1.4zM885.83 348.7h1.4V349.79h-1.4zM887.46 349.79h1.4V360.41h-1.4zM897.18 344.08h1.4V344.89h-1.4zM898.81 344.89h1.4V346.61h-1.4zM902.05 345.34h1.4V355.91h-1.4zM903.67 355.91h1.4V368.04h-1.4zM906.91 366.4h1.4V368.41h-1.4zM908.53 368.41h1.4V369.28h-1.4zM913.4 364.24h1.4V367.77h-1.4zM916.64 362.68h1.4V363.18h-1.4zM918.26 363.12h1.4V366.02h-1.4z" fill="#f23645"/>
<path d="M6.3 137.76L8.3 138.06L10.3 138.46L12.3 138.89L14.3 139.31L16.3 139.71L18.3 140.07L20.3 140.43L22.3 140.76L24.3 141.06L26.3 141.29L28.3 141.46L30.3 141.58L32.3 141.63L34.3 141.59L36.3 141.49L38.3 141.34L40.3 141.17L42.3 140.95L44.3 140.71L46.3 140.46L48.3 140.19L50.3 139.88L52.3 139.53L54.3 139.14L56.3 138.74L58.3 138.34L60.3 137.95L62.3 137.57L64.3 137.22L66.3 136.89L68.3 136.57L70.3 136.25L72.3 135.94L74.3 135.65L76.3 135.4L78.3 135.17L80.3 134.97L82.3 134.77L84.3 134.57L86.3 134.37L88.3 134.17L90.3 133.97L92.3 133.77L94.3 133.57L96.3 133.37L98.3 133.18L100.3 132.99L102.3 132.82L104.3 132.66L106.3 132.5L108.3 132.34L110.3 132.16L112.3 131.95L114.3 131.69L116.3 131.39L118.3 131.07L120.3 130.75L122.3 130.42L124.3 130.06L126.3 129.65L128.3 129.2L130.3 128.73L132.3 128.25L134.3 127.77L136.3 127.28L138.3 126.78L140.3 126.27L142.3 125.75L144.3 125.23L146.3 124.71L148.3 124.19L150.3 123.67L152.3 123.15L154.3 122.63L156.3 122.11L158.3 121.59L160.3 121.08L162.3 120.57L164.3 120.07L166.3 119.59L168.3 119.11L170.3 118.63L172.3 118.16L174.3 117.73L176.3 117.36L178.3 117.05L180.3 116.76L182.3 116.48L184.3 116.21L186.3 115.97L188.3 115.79L190.3 115.67L192.3 115.61L194.3 115.59L196.3 115.65L198.3 115.76L200.3 115.9L202.3 116.07L204.3 116.28L206.3 116.57L208.3 116.92L210.3 117.31L212.3 117.71L214.3 118.11L216.3 118.51L218.3 118.91L220.3 119.31L222.3 119.71L224.3 120.11L226.3 120.51L228.3 120.91L230.3 121.31L232.3 121.71L234.3 122.11L236.3 122.51L238.3 122.91L240.3 123.3L242.3 123.67L244.3 124L246.3 124.31L248.3 124.61L250.3 124.91L252.3 125.21L254.3 125.57L256.3 126.04L258.3 126.64L260.3 127.34L262.3 128.08L264.3 128.8L266.3 129.47L268.3 130.05L270.3 130.54L272.3 130.96L274.3 131.36L276.3 131.76L278.3 132.17L280.3 132.6L282.3 133.06L284.3 133.53L286.3 134.01L288.3 134.49L290.3 134.99L292.3 135.52L294.3 136.1L296.3 136.72L298.3 137.36L300.3 138L302.3 138.65L304.3 139.34L306.3 140.1L308.3 140.91L310.3 141.75L312.3 142.63L314.3 143.58L316.3 144.65L318.3 145.83L320.3 147.06L322.3 148.32L324.3 149.61L326.3 150.94L328.3 152.32L330.3 153.71L332.3 155.1L334.3 156.44L336.3 157.73L338.3 158.97L340.3 160.18L342.3 161.41L344.3 162.73L346.3 164.18L348.3 165.74L350.3 167.37L352.3 169.03L354.3 170.71L356.3 172.41L358.3 174.14L360.3 175.89L362.3 177.66L364.3 179.47L366.3 181.36L368.3 183.31L370.3 185.3L372.3 187.28L374.3 189.22L376.3 191.08L378.3 192.88L380.3 194.64L382.3 196.38L384.3 198.1L386.3 199.8L388.3 201.47L390.3 203.12L392.3 204.77L394.3 206.41L396.3 208.03L398.3 209.64L400.3 211.24L402.3 212.83L404.3 214.41L406.3 215.95L408.3 217.47L410.3 218.98L412.3 220.49L414.3 222.05L416.3 223.66L418.3 225.34L420.3 227.04L422.3 228.72L424.3 230.37L426.3 231.97L428.3 233.54L430.3 235.09L432.3 236.65L434.3 238.19L436.3 239.71L438.3 241.22L440.3 242.73L442.3 244.21L444.3 245.64L446.3 247.01L448.3 248.3L450.3 249.56L452.3 250.8L454.3 252.01L456.3 253.18L458.3 254.31L460.3 255.42L462.3 256.51L464.3 257.58L466.3 258.63L468.3 259.65L470.3 260.65L472.3 261.64L474.3 262.62L476.3 263.56L478.3 264.48L480.3 265.39L482.3 266.29L484.3 267.22L486.3 268.17L488.3 269.15L490.3 270.15L492.3 271.15L494.3 272.15L496.3 273.15L498.3 274.15L500.3 275.15L502.3 276.13L504.3 277.07L506.3 277.93L508.3 278.73L510.3 279.49L512.3 280.24L514.3 280.99L516.3 281.74L518.3 282.49L520.3 283.24L522.3 283.99L524.3 284.74L526.3 285.49L528.3 286.24L530.3 286.99L532.3 287.74L534.3 288.52L536.3 289.33L538.3 290.16L540.3 291L542.3 291.86L544.3 292.72L546.3 293.6L548.3 294.5L550.3 295.41L552.3 296.31L554.3 297.14L556.3 297.85L558.3 298.38L560.3 298.81L562.3 299.18L564.3 299.56L566.3 299.93L568.3 300.31L570.3 300.68L572.3 301.06L574.3 301.43L576.3 301.81L578.3 302.2L580.3 302.62L582.3 303.09L584.3 303.58L586.3 304.08L588.3 304.58L590.3 305.08L592.3 305.58L594.3 306.08L596.3 306.57L598.3 307.06L600.3 307.52L602.3 307.95L604.3 308.36L606.3 308.76L608.3 309.15L610.3 309.53L612.3 309.9L614.3 310.25L616.3 310.6L618.3 310.94L620.3 311.25L622.3 311.53L624.3 311.79L626.3 312.04L628.3 312.26L630.3 312.46L632.3 312.6L634.3 312.71L636.3 312.82L638.3 312.95L640.3 313.12L642.3 313.36L644.3 313.65L646.3 313.95L648.3 314.25L650.3 314.57L652.3 314.91L654.3 315.25L656.3 315.6L658.3 315.95L660.3 316.3L662.3 316.65L664.3 317L666.3 317.35L668.3 317.69L670.3 318.03L672.3 318.34L674.3 318.65L676.3 318.94L678.3 319.23L680.3 319.49L682.3 319.72L684.3 319.93L686.3 320.13L688.3 320.32L690.3 320.5L692.3 320.67L694.3 320.82L696.3 320.97L698.3 321.11L700.3 321.25L702.3 321.36L704.3 321.46L706.3 321.56L708.3 321.66L710.3 321.74L712.3 321.8L714.3 321.86L716.3 321.91L718.3 321.95L720.3 321.98L722.3 322L724.3 322L726.3 322L728.3 321.98L730.3 321.95L732.3 321.88L734.3 321.78L736.3 321.68L738.3 321.55L740.3 321.38L742.3 321.14L744.3 320.85L746.3 320.55L748.3 320.25L750.3 319.93L752.3 319.59L754.3 319.25L756.3 318.9L758.3 318.58L760.3 318.31L762.3 318.1L764.3 317.93L766.3 317.78L768.3 317.65L770.3 317.56L772.3 317.51L774.3 317.5L776.3 317.5L778.3 317.52L780.3 317.55L782.3 317.62L784.3 317.72L786.3 317.82L788.3 317.95L790.3 318.12L792.3 318.36L794.3 318.65L796.3 318.94L798.3 319.23L800.3 319.49L802.3 319.72L804.3 319.93L806.3 320.13L808.3 320.3L810.3 320.42L812.3 320.48L814.3 320.5L816.3 320.5L818.3 320.48L820.3 320.45L822.3 320.38L824.3 320.28L826.3 320.18L828.3 320.07L830.3 319.95L832.3 319.8L834.3 319.68L836.3 319.63L838.3 319.73L840.3 320L842.3 320.36L844.3 320.76L846.3 321.16L848.3 321.56L850.3 321.96L852.3 322.36L854.3 322.76L856.3 323.16L858.3 323.56L860.3 323.95L862.3 324.33L864.3 324.69L866.3 325.02L868.3 325.35L870.3 325.67L872.3 325.99L874.3 326.3L876.3 326.6L878.3 326.89L880.3 327.17L882.3 327.45L884.3 327.73L886.3 328.01L888.3 328.29L890.3 328.57L892.3 328.85L894.3 329.13L896.3 329.41L898.3 329.69L900.3 329.96L902.3 330.22L904.3 330.47L906.3 330.73L908.3 330.98L910.3 331.25L912.3 331.54L914.3 331.84L916.3 332.12L918.3 332.33" stroke="#8ad9e2" stroke-width="0.95" fill="none"/>
<path d="M6.3 166.9L8.3 166.79L10.3 166.64L12.3 166.47L14.3 166.28L16.3 166.07L18.3 165.83L20.3 165.59L22.3 165.33L24.3 165.06L26.3 164.76L28.3 164.45L30.3 164.05L32.3 163.51L34.3 162.75L36.3 161.83L38.3 160.77L40.3 159.58L42.3 158.23L44.3 156.77L46.3 155.27L48.3 153.77L50.3 152.27L52.3 150.77L54.3 149.27L56.3 147.77L58.3 146.23L60.3 144.64L62.3 142.96L64.3 141.24L66.3 139.49L68.3 137.8L70.3 136.21L72.3 134.76L74.3 133.41L76.3 132.21L78.3 131.19L80.3 130.36L82.3 129.65L84.3 128.98L86.3 128.32L88.3 127.65L90.3 126.97L92.3 126.26L94.3 125.51L96.3 124.73L98.3 123.97L100.3 123.28L102.3 122.66L104.3 122.12L106.3 121.65L108.3 121.27L110.3 120.99L112.3 120.75L114.3 120.48L116.3 120.14L118.3 119.72L120.3 119.21L122.3 118.58L124.3 117.77L126.3 116.84L128.3 115.8L130.3 114.67L132.3 113.44L134.3 112.12L136.3 110.72L138.3 109.23L140.3 107.64L142.3 106.02L144.3 104.44L146.3 102.96L148.3 101.56L150.3 100.28L152.3 99.16L154.3 98.25L156.3 97.5L158.3 96.87L160.3 96.33L162.3 95.9L164.3 95.53L166.3 95.2L168.3 94.87L170.3 94.53L172.3 94.2L174.3 93.87L176.3 93.53L178.3 93.2L180.3 92.9L182.3 92.67L184.3 92.55L186.3 92.52L188.3 92.66L190.3 93.04L192.3 93.78L194.3 94.81L196.3 96.09L198.3 97.52L200.3 99.07L202.3 100.68L204.3 102.36L206.3 104.16L208.3 106.14L210.3 108.31L212.3 110.55L214.3 112.71L216.3 114.68L218.3 116.47L220.3 118.13L222.3 119.7L224.3 121.15L226.3 122.53L228.3 123.87L230.3 125.2L232.3 126.53L234.3 127.85L236.3 129.12L238.3 130.3L240.3 131.38L242.3 132.39L244.3 133.37L246.3 134.32L248.3 135.25L250.3 136.16L252.3 137.09L254.3 138.2L256.3 139.65L258.3 141.54L260.3 143.58L262.3 145.48L264.3 146.96L266.3 148.13L268.3 149.12L270.3 150.04L272.3 150.9L274.3 151.7L276.3 152.42L278.3 153.04L280.3 153.53L282.3 153.98L284.3 154.45L286.3 154.99L288.3 155.61L290.3 156.38L292.3 157.4L294.3 158.78L296.3 160.42L298.3 162.14L300.3 163.77L302.3 165.24L304.3 166.63L306.3 168.03L308.3 169.52L310.3 171.11L312.3 172.92L314.3 175.18L316.3 178.13L318.3 181.69L320.3 185.53L322.3 189.33L324.3 192.9L326.3 196.31L328.3 199.56L330.3 202.64L332.3 205.5L334.3 208.23L336.3 210.9L338.3 213.57L340.3 216.23L342.3 218.9L344.3 221.57L346.3 224.23L348.3 226.9L350.3 229.63L352.3 232.51L354.3 235.6L356.3 238.85L358.3 242.21L360.3 245.65L362.3 249.17L364.3 252.89L366.3 256.92L368.3 261.36L370.3 266.09L372.3 270.78L374.3 275.08L376.3 278.73L378.3 281.81L380.3 284.48L382.3 286.86L384.3 288.94L386.3 290.81L388.3 292.58L390.3 294.33L392.3 296.08L394.3 297.83L396.3 299.58L398.3 301.33L400.3 303.08L402.3 304.83L404.3 306.58L406.3 308.33L408.3 310.08L410.3 311.85L412.3 313.68L414.3 315.59L416.3 317.55L418.3 319.55L420.3 321.52L422.3 323.41L424.3 325.2L426.3 326.91L428.3 328.58L430.3 330.25L432.3 331.92L434.3 333.53L436.3 334.96L438.3 336.06L440.3 336.82L442.3 337.32L444.3 337.6L446.3 337.66L448.3 337.53L450.3 337.28L452.3 336.97L454.3 336.62L456.3 336.25L458.3 335.93L460.3 335.74L462.3 335.72L464.3 335.82L466.3 335.97L468.3 336.12L470.3 336.27L472.3 336.42L474.3 336.57L476.3 336.73L478.3 336.9L480.3 337.13L482.3 337.42L484.3 337.75L486.3 338.11L488.3 338.52L490.3 339.02L492.3 339.65L494.3 340.36L496.3 341.1L498.3 341.78L500.3 342.34L502.3 342.74L504.3 343.04L506.3 343.28L508.3 343.47L510.3 343.57L512.3 343.54L514.3 343.43L516.3 343.28L518.3 343.15L520.3 343.06L522.3 343.01L524.3 343L526.3 343.01L528.3 343.14L530.3 343.49L532.3 344.12L534.3 344.94L536.3 345.84L538.3 346.75L540.3 347.69L542.3 348.66L544.3 349.65L546.3 350.64L548.3 351.58L550.3 352.42L552.3 353.13L554.3 353.64L556.3 353.8L558.3 353.45L560.3 352.6L562.3 351.5L564.3 350.41L566.3 349.43L568.3 348.56L570.3 347.83L572.3 347.23L574.3 346.82L576.3 346.63L578.3 346.7L580.3 347.05L582.3 347.66L584.3 348.43L586.3 349.16L588.3 349.69L590.3 349.86L592.3 349.68L594.3 349.08L596.3 348.25L598.3 347.36L600.3 346.7L602.3 346.21L604.3 345.81L606.3 345.37L608.3 344.94L610.3 344.58L612.3 344.3L614.3 344.03L616.3 343.67L618.3 343.1L620.3 342.3L622.3 341.34L624.3 340.28L626.3 339.17L628.3 338.01L630.3 336.89L632.3 335.92L634.3 335.19L636.3 334.63L638.3 334.25L640.3 334.04L642.3 334.04L644.3 334.19L646.3 334.45L648.3 334.77L650.3 335.17L652.3 335.63L654.3 336.15L656.3 336.73L658.3 337.36L660.3 338L662.3 338.63L664.3 339.21L666.3 339.76L668.3 340.23L670.3 340.61L672.3 340.87L674.3 341.02L676.3 341.06L678.3 340.97L680.3 340.75L682.3 340.45L684.3 340.12L686.3 339.78L688.3 339.45L690.3 339.13L692.3 338.84L694.3 338.59L696.3 338.37L698.3 338.13L700.3 337.82L702.3 337.44L704.3 336.99L706.3 336.48L708.3 335.92L710.3 335.3L712.3 334.68L714.3 334.14L716.3 333.73L718.3 333.44L720.3 333.23L722.3 333.05L724.3 332.89L726.3 332.74L728.3 332.53L730.3 332.19L732.3 331.68L734.3 331.04L736.3 330.27L738.3 329.35L740.3 328.28L742.3 327.12L744.3 325.94L746.3 324.78L748.3 323.63L750.3 322.52L752.3 321.47L754.3 320.51L756.3 319.62L758.3 318.85L760.3 318.27L762.3 317.92L764.3 317.73L766.3 317.65L768.3 317.64L770.3 317.7L772.3 317.82L774.3 317.98L776.3 318.15L778.3 318.33L780.3 318.51L782.3 318.65L784.3 318.72L786.3 318.75L788.3 318.8L790.3 318.93L792.3 319.16L794.3 319.48L796.3 319.88L798.3 320.37L800.3 320.96L802.3 321.56L804.3 322.09L806.3 322.47L808.3 322.7L810.3 322.81L812.3 322.82L814.3 322.7L816.3 322.49L818.3 322.22L820.3 321.92L822.3 321.61L824.3 321.29L826.3 320.96L828.3 320.64L830.3 320.34L832.3 320.05L834.3 319.81L836.3 319.72L838.3 319.89L840.3 320.33L842.3 320.95L844.3 321.71L846.3 322.6L848.3 323.62L850.3 324.73L852.3 325.92L854.3 327.16L856.3 328.46L858.3 329.74L860.3 330.92L862.3 331.96L864.3 332.89L866.3 333.73L868.3 334.52L870.3 335.25L872.3 335.92L874.3 336.55L876.3 337.12L878.3 337.64L880.3 338.12L882.3 338.61L884.3 339.11L886.3 339.63L888.3 340.14L890.3 340.61L892.3 341.02L894.3 341.38L896.3 341.73L898.3 342.09L900.3 342.53L902.3 343.16L904.3 344.05L906.3 345.13L908.3 346.28L910.3 347.35L912.3 348.31L914.3 349.16L916.3 349.86L918.3 350.35" stroke="#c580d6" stroke-width="0.85" fill="none"/>
<path d="M6.3 167.17L8.3 166.8L10.3 166.31L12.3 165.79L14.3 165.38L16.3 165.13L18.3 165.02L20.3 165L22.3 164.93L24.3 164.67L26.3 164.12L28.3 163.31L30.3 162.22L32.3 160.8L34.3 158.96L36.3 156.8L38.3 154.5L40.3 152.2L42.3 149.92L44.3 147.66L46.3 145.41L48.3 143.16L50.3 140.91L52.3 138.66L54.3 136.41L56.3 134.16L58.3 131.9L60.3 129.62L62.3 127.31L64.3 125L66.3 122.73L68.3 120.55L70.3 118.47L72.3 116.56L74.3 114.94L76.3 113.8L78.3 113.31L80.3 113.51L82.3 114.34L84.3 115.4L86.3 116.31L88.3 116.71L90.3 116.49L92.3 115.59L94.3 114.27L96.3 112.81L98.3 111.6L100.3 110.86L102.3 110.76L104.3 111.08L106.3 111.58L108.3 112.08L110.3 112.59L112.3 113.12L114.3 113.55L116.3 113.67L118.3 113.24L120.3 112.22L122.3 110.82L124.3 109.3L126.3 107.79L128.3 106.36L130.3 105.05L132.3 103.9L134.3 102.79L136.3 101.52L138.3 99.9L140.3 97.89L142.3 95.67L144.3 93.43L146.3 91.29L148.3 89.37L150.3 87.74L152.3 86.54L154.3 85.79L156.3 85.52L158.3 85.6L160.3 85.88L162.3 86.22L164.3 86.55L166.3 86.87L168.3 87.08L170.3 87.1L172.3 86.86L174.3 86.48L176.3 86.07L178.3 85.71L180.3 85.45L182.3 85.39L184.3 85.61L186.3 86.06L188.3 86.93L190.3 88.42L192.3 90.82L194.3 93.91L196.3 97.32L198.3 100.53L200.3 103.5L202.3 106.41L204.3 109.61L206.3 113.28L208.3 117.47L210.3 121.9L212.3 126.18L214.3 129.8L216.3 132.57L218.3 134.42L220.3 135.63L222.3 136.61L224.3 137.7L226.3 138.86L228.3 139.95L230.3 140.92L232.3 141.96L234.3 143.07L236.3 144.23L238.3 145.34L240.3 146.39L242.3 147.4L244.3 148.4L246.3 149.4L248.3 150.4L250.3 151.4L252.3 152.4L254.3 153.53L256.3 155.13L258.3 157.38L260.3 160.04L262.3 162.44L264.3 164.22L266.3 165.38L268.3 166.12L270.3 166.52L272.3 166.52L274.3 166.22L276.3 165.7L278.3 165.06L280.3 164.34L282.3 163.64L284.3 163.11L286.3 162.88L288.3 163.12L290.3 163.91L292.3 165.46L294.3 167.72L296.3 170.55L298.3 173.6L300.3 176.63L302.3 179.49L304.3 182.13L306.3 184.5L308.3 186.54L310.3 188.53L312.3 190.89L314.3 194.28L316.3 198.85L318.3 204.51L320.3 210.64L322.3 216.97L324.3 222.98L326.3 228.44L328.3 232.84L330.3 236.36L332.3 239.19L334.3 241.63L336.3 243.8L338.3 245.91L340.3 248.16L342.3 250.63L344.3 253.29L346.3 256.23L348.3 259.51L350.3 263.19L352.3 267.1L354.3 271.1L356.3 275.1L358.3 279.1L360.3 283.4L362.3 288.33L364.3 294.19L366.3 300.59L368.3 307.09L370.3 312.98L372.3 317.96L374.3 321.65L376.3 324.18L378.3 325.71L380.3 326.57L382.3 327.03L384.3 327.27L386.3 327.42L388.3 327.49L390.3 327.57L392.3 327.77L394.3 328.2L396.3 328.78L398.3 329.49L400.3 330.28L402.3 331.18L404.3 332.15L406.3 333.16L408.3 334.23L410.3 335.42L412.3 336.81L414.3 338.39L416.3 340.16L418.3 342.07L420.3 344.05L422.3 346.01L424.3 347.89L426.3 349.61L428.3 351.21L430.3 352.73L432.3 354.15L434.3 355.4L436.3 356.32L438.3 356.74L440.3 356.54L442.3 355.52L444.3 353.8L446.3 351.53L448.3 349.05L450.3 346.56L452.3 344.21L454.3 342.07L456.3 340.2L458.3 338.66L460.3 337.57L462.3 336.97L464.3 336.94L466.3 337.34L468.3 338.06L470.3 338.85L472.3 339.54L474.3 339.99L476.3 340.24L478.3 340.4L480.3 340.56L482.3 340.74L484.3 340.99L486.3 341.45L488.3 342.25L490.3 343.39L492.3 344.64L494.3 345.83L496.3 346.89L498.3 347.9L500.3 348.78L502.3 349.41L504.3 349.62L506.3 349.46L508.3 348.99L510.3 348.32L512.3 347.5L514.3 346.58L516.3 345.65L518.3 344.74L520.3 343.95L522.3 343.33L524.3 342.96L526.3 342.92L528.3 343.27L530.3 344.13L532.3 345.52L534.3 347.44L536.3 349.64L538.3 351.89L540.3 354.02L542.3 356.05L544.3 358L546.3 359.76L548.3 361.2L550.3 362.1L552.3 362.4L554.3 361.75L556.3 360.16L558.3 357.64L560.3 354.68L562.3 351.69L564.3 349.04L566.3 346.87L568.3 345.16L570.3 343.8L572.3 342.77L574.3 342.15L576.3 342.16L578.3 342.75L580.3 343.75L582.3 344.88L584.3 346.06L586.3 347.28L588.3 348.18L590.3 348.32L592.3 347.48L594.3 346.19L596.3 345.02L598.3 344.31L600.3 343.95L602.3 343.72L604.3 343.42L606.3 342.88L608.3 342.14L610.3 341.37L612.3 340.72L614.3 340.17L616.3 339.66L618.3 339.01L620.3 338.13L622.3 336.89L624.3 335.36L626.3 333.59L628.3 331.76L630.3 329.97L632.3 328.39L634.3 327.1L636.3 326.17L638.3 325.62L640.3 325.47L642.3 325.78L644.3 326.57L646.3 327.88L648.3 329.53L650.3 331.28L652.3 332.93L654.3 334.48L656.3 335.97L658.3 337.44L660.3 338.87L662.3 340.2L664.3 341.45L666.3 342.57L668.3 343.48L670.3 344.11L672.3 344.35L674.3 344.24L676.3 343.79L678.3 343.04L680.3 342L682.3 340.77L684.3 339.54L686.3 338.49L688.3 337.77L690.3 337.38L692.3 337.26L694.3 337.2L696.3 337.02L698.3 336.68L700.3 336.28L702.3 335.86L704.3 335.31L706.3 334.51L708.3 333.48L710.3 332.32L712.3 331.18L714.3 330.21L716.3 329.52L718.3 329.17L720.3 329.14L722.3 329.36L724.3 329.66L726.3 329.88L728.3 329.9L730.3 329.73L732.3 329.27L734.3 328.43L736.3 327.09L738.3 325.23L740.3 322.91L742.3 320.28L744.3 317.63L746.3 315.19L748.3 313.1L750.3 311.33L752.3 309.86L754.3 308.65L756.3 307.72L758.3 307.22L760.3 307.34L762.3 308.26L764.3 309.77L766.3 311.56L768.3 313.17L770.3 314.34L772.3 315.18L774.3 315.85L776.3 316.52L778.3 317.18L780.3 317.8L782.3 318.3L784.3 318.6L786.3 318.72L788.3 318.82L790.3 319.02L792.3 319.45L794.3 320.04L796.3 320.79L798.3 321.71L800.3 322.85L802.3 324.08L804.3 325.25L806.3 326.19L808.3 326.69L810.3 326.63L812.3 325.88L814.3 324.75L816.3 323.51L818.3 322.43L820.3 321.56L822.3 320.84L824.3 320.13L826.3 319.3L828.3 318.35L830.3 317.45L832.3 316.91L834.3 316.89L836.3 317.57L838.3 318.88L840.3 320.79L842.3 323.01L844.3 325.42L846.3 327.88L848.3 330.38L850.3 332.84L852.3 335.21L854.3 337.42L856.3 339.37L858.3 341.01L860.3 342.31L862.3 343.4L864.3 344.41L866.3 345.45L868.3 346.56L870.3 347.66L872.3 348.52L874.3 348.94L876.3 348.94L878.3 348.7L880.3 348.47L882.3 348.4L884.3 348.59L886.3 348.96L888.3 349.37L890.3 349.64L892.3 349.7L894.3 349.52L896.3 349.23L898.3 348.95L900.3 348.99L902.3 349.62L904.3 351.01L906.3 352.91L908.3 354.82L910.3 356.38L912.3 357.46L914.3 358.23L916.3 358.73L918.3 359.04" stroke="#827e7a" stroke-width="0.75" fill="none"/>
</g>
<rect x="12.7" y="421.7" width="174.2" height="25" fill="#fff" fill-opacity="0.55"/>
<g transform="translate(48.8 428.4) scale(0.588)"><path d="M12 21C5 15.5 0.9 11.6 0.9 6.8 0.9 3.4 3.4 1 6.4 1c2.2 0 4.2 1.2 5.6 3.2 1.4-2 3.4-3.2 5.6-3.2 3 0 5.5 2.400000000000001 5.5 5.8 0 4.8-4.1 8.7-11.1 14.2z" fill="#5bd552" stroke="#47734a" stroke-width="1.7" stroke-linejoin="round"/><path d="M5.2 6.2c.6 2.2 1.9 4.2 3.6 6" stroke="#a6eba0" stroke-width="1.1" fill="none" stroke-linecap="round"/></g>
<text x="65" y="438.9" font-family="Liberation Sans, sans-serif" font-size="12.4" fill="#b0606e" textLength="87" lengthAdjust="spacingAndGlyphs">Yash_Jain_1309</text>
<text x="6.5" y="12.1" font-family="Liberation Sans, sans-serif" font-size="8.4" fill="#222" textLength="261.5" lengthAdjust="spacingAndGlyphs">Yash_Jain_1309 created with TradingView.com, Apr 03, 2026 18:21 UTC+5:30</text>
<text x="11.4" y="28.8" font-family="Liberation Sans, sans-serif" font-size="7.3" fill="#1d1d22" textLength="78.6" lengthAdjust="spacingAndGlyphs">SOLUSD · 4h · Coinbase</text>
<text x="11.4" y="39.6" font-family="Liberation Sans, sans-serif" font-size="7.3" fill="#1d1d22" textLength="67.6" lengthAdjust="spacingAndGlyphs">EMA 20/50/100/200</text>
<text x="83.8" y="39.6" font-family="Liberation Sans, sans-serif" font-size="7.3" fill="#6f6f73" textLength="17.8" lengthAdjust="spacingAndGlyphs">80.69</text>
<text x="107" y="39.6" font-family="Liberation Sans, sans-serif" font-size="7.3" fill="#b04fc4" textLength="18.4" lengthAdjust="spacingAndGlyphs">82.76</text>
<text x="130.6" y="39.6" font-family="Liberation Sans, sans-serif" font-size="7.3" fill="#3cc4d6" textLength="18.2" lengthAdjust="spacingAndGlyphs">86.86</text>
<text x="11.4" y="50.3" font-family="Liberation Sans, sans-serif" font-size="7.3" fill="#1d1d22" textLength="37" lengthAdjust="spacingAndGlyphs">Watermark</text>
<text x="989.8" y="453.93" font-family="Liberation Sans, sans-serif" font-size="8.5" fill="#2a2a2e" textLength="18.2" lengthAdjust="spacingAndGlyphs">60.00</text>
<text x="989.8" y="431.99" font-family="Liberation Sans, sans-serif" font-size="8.5" fill="#2a2a2e" textLength="18.2" lengthAdjust="spacingAndGlyphs">65.00</text>
<text x="989.8" y="410.05" font-family="Liberation Sans, sans-serif" font-size="8.5" fill="#2a2a2e" textLength="18.2" lengthAdjust="spacingAndGlyphs">70.00</text>
<text x="989.8" y="388.11" font-family="Liberation Sans, sans-serif" font-size="8.5" fill="#2a2a2e" textLength="18.2" lengthAdjust="spacingAndGlyphs">75.00</text>
<text x="989.8" y="366.18" font-family="Liberation Sans, sans-serif" font-size="8.5" fill="#2a2a2e" textLength="18.2" lengthAdjust="spacingAndGlyphs">80.00</text>
<text x="989.8" y="344.24" font-family="Liberation Sans, sans-serif" font-size="8.5" fill="#2a2a2e" textLength="18.2" lengthAdjust="spacingAndGlyphs">85.00</text>
<text x="989.8" y="322.3" font-family="Liberation Sans, sans-serif" font-size="8.5" fill="#2a2a2e" textLength="18.2" lengthAdjust="spacingAndGlyphs">90.00</text>
<text x="989.8" y="300.36" font-family="Liberation Sans, sans-serif" font-size="8.5" fill="#2a2a2e" textLength="18.2" lengthAdjust="spacingAndGlyphs">95.00</text>
<text x="989.8" y="278.43" font-family="Liberation Sans, sans-serif" font-size="8.5" fill="#2a2a2e" textLength="22.2" lengthAdjust="spacingAndGlyphs">100.00</text>
<text x="989.8" y="256.49" font-family="Liberation Sans, sans-serif" font-size="8.5" fill="#2a2a2e" textLength="22.2" lengthAdjust="spacingAndGlyphs">105.00</text>
<text x="989.8" y="234.55" font-family="Liberation Sans, sans-serif" font-size="8.5" fill="#2a2a2e" textLength="22.2" lengthAdjust="spacingAndGlyphs">110.00</text>
<text x="989.8" y="212.61" font-family="Liberation Sans, sans-serif" font-size="8.5" fill="#2a2a2e" textLength="22.2" lengthAdjust="spacingAndGlyphs">115.00</text>
<text x="989.8" y="190.67" font-family="Liberation Sans, sans-serif" font-size="8.5" fill="#2a2a2e" textLength="22.2" lengthAdjust="spacingAndGlyphs">120.00</text>
<text x="989.8" y="168.74" font-family="Liberation Sans, sans-serif" font-size="8.5" fill="#2a2a2e" textLength="22.2" lengthAdjust="spacingAndGlyphs">125.00</text>
<text x="989.8" y="146.8" font-family="Liberation Sans, sans-serif" font-size="8.5" fill="#2a2a2e" textLength="22.2" lengthAdjust="spacingAndGlyphs">130.00</text>
<text x="989.8" y="124.86" font-family="Liberation Sans, sans-serif" font-size="8.5" fill="#2a2a2e" textLength="22.2" lengthAdjust="spacingAndGlyphs">135.00</text>
<text x="989.8" y="102.92" font-family="Liberation Sans, sans-serif" font-size="8.5" fill="#2a2a2e" textLength="22.2" lengthAdjust="spacingAndGlyphs">140.00</text>
<text x="989.8" y="80.99" font-family="Liberation Sans, sans-serif" font-size="8.5" fill="#2a2a2e" textLength="22.2" lengthAdjust="spacingAndGlyphs">145.00</text>
<text x="989.8" y="59.05" font-family="Liberation Sans, sans-serif" font-size="8.5" fill="#2a2a2e" textLength="22.2" lengthAdjust="spacingAndGlyphs">150.00</text>
<rect x="986.3" y="19.5" width="28.8" height="16.3" rx="2" fill="#fff"/>
<text x="991.8" y="30.8" font-family="Liberation Sans, sans-serif" font-size="8" fill="#333" textLength="13" lengthAdjust="spacingAndGlyphs">USD</text>
<rect x="984.25" y="282.2" width="26.75" height="9.8" fill="#787b86"/>
<text x="989.2" y="290" font-family="Liberation Sans, sans-serif" font-size="7.9" font-weight="bold" fill="#fff" textLength="18.6" lengthAdjust="spacingAndGlyphs">97.37</text>
<rect x="984.25" y="361" width="26.75" height="10.3" rx="0.8" fill="#f03245"/>
<text x="989.4" y="368.7" font-family="Liberation Sans, sans-serif" font-size="7.9" font-weight="bold" fill="#fff" textLength="18.6" lengthAdjust="spacingAndGlyphs">79.42</text>
<text x="17.5" y="464.7" font-family="Liberation Sans, sans-serif" font-size="7.7" font-weight="bold" fill="#222226" text-anchor="middle">2026</text>
<text x="56.41" y="464.7" font-family="Liberation Sans, sans-serif" font-size="7.7" fill="#222226" text-anchor="middle">5</text>
<text x="95.32" y="464.7" font-family="Liberation Sans, sans-serif" font-size="7.7" fill="#222226" text-anchor="middle">9</text>
<text x="134.24" y="464.7" font-family="Liberation Sans, sans-serif" font-size="7.7" fill="#222226" text-anchor="middle">13</text>
<text x="173.15" y="464.7" font-family="Liberation Sans, sans-serif" font-size="7.7" fill="#222226" text-anchor="middle">17</text>
<text x="212.06" y="464.7" font-family="Liberation Sans, sans-serif" font-size="7.7" fill="#222226" text-anchor="middle">21</text>
<text x="250.97" y="464.7" font-family="Liberation Sans, sans-serif" font-size="7.7" fill="#222226" text-anchor="middle">25</text>
<text x="319.07" y="464.7" font-family="Liberation Sans, sans-serif" font-size="7.7" fill="#222226" text-anchor="middle">Feb</text>
<text x="357.98" y="464.7" font-family="Liberation Sans, sans-serif" font-size="7.7" fill="#222226" text-anchor="middle">5</text>
<text x="396.89" y="464.7" font-family="Liberation Sans, sans-serif" font-size="7.7" fill="#222226" text-anchor="middle">9</text>
<text x="435.8" y="464.7" font-family="Liberation Sans, sans-serif" font-size="7.7" fill="#222226" text-anchor="middle">13</text>
<text x="474.72" y="464.7" font-family="Liberation Sans, sans-serif" font-size="7.7" fill="#222226" text-anchor="middle">17</text>
<text x="513.63" y="464.7" font-family="Liberation Sans, sans-serif" font-size="7.7" fill="#222226" text-anchor="middle">21</text>
<text x="552.54" y="464.7" font-family="Liberation Sans, sans-serif" font-size="7.7" fill="#222226" text-anchor="middle">25</text>
<text x="591.45" y="464.7" font-family="Liberation Sans, sans-serif" font-size="7.7" fill="#222226" text-anchor="middle">Mar</text>
<text x="630.36" y="464.7" font-family="Liberation Sans, sans-serif" font-size="7.7" fill="#222226" text-anchor="middle">5</text>
<text x="669.28" y="464.7" font-family="Liberation Sans, sans-serif" font-size="7.7" fill="#222226" text-anchor="middle">9</text>
<text x="708.19" y="464.7" font-family="Liberation Sans, sans-serif" font-size="7.7" fill="#222226" text-anchor="middle">13</text>
<text x="747.1" y="464.7" font-family="Liberation Sans, sans-serif" font-size="7.7" fill="#222226" text-anchor="middle">17</text>
<text x="786.01" y="464.7" font-family="Liberation Sans, sans-serif" font-size="7.7" fill="#222226" text-anchor="middle">21</text>
<text x="824.92" y="464.7" font-family="Liberation Sans, sans-serif" font-size="7.7" fill="#222226" text-anchor="middle">25</text>
<text x="893.4" y="464.7" font-family="Liberation Sans, sans-serif" font-size="7.7" fill="#222226" text-anchor="middle">Apr</text>
<text x="932.4" y="464.7" font-family="Liberation Sans, sans-serif" font-size="7.7" fill="#222226" text-anchor="middle">5</text>
<text x="970.4" y="464.7" font-family="Liberation Sans, sans-serif" font-size="7.7" fill="#222226" text-anchor="middle">9</text>
<g transform="translate(7.75 482.95) scale(0.518)" fill="#131313"><path d="M14 22H7V11H0V4h14v18zM28 22h-8l7.5-18h8L28 22z"/><circle cx="20" cy="8" r="4"/></g>
<text x="32.2" y="494.4" font-family="Liberation Sans, sans-serif" font-size="12.7" fill="#131313" stroke="#131313" stroke-width="0.38" textLength="74.3" lengthAdjust="spacingAndGlyphs">TradingView</text>
</svg>
</body></html>
